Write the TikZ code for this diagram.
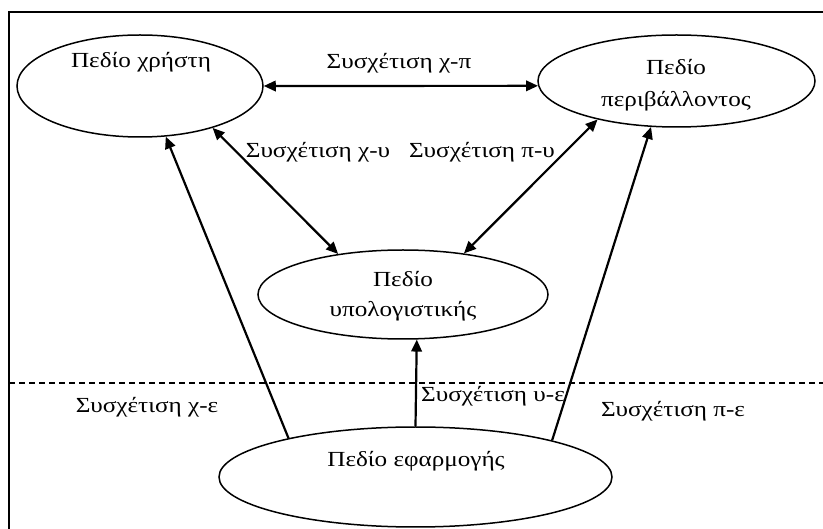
\documentclass[tikz,border=0pt]{standalone}
\usepackage{fontspec}
\setmainfont{Liberation Serif}[FakeStretch=1.17]
\usetikzlibrary{arrows.meta,shapes.geometric}
\begin{document}
\begin{tikzpicture}[x=1pt,y=-1pt,
  fieldbox/.style={draw, ellipse, line width=1.5pt, inner sep=0pt},
  txt/.style={anchor=base, inner sep=0pt, font=\fontsize{21.5}{26}\selectfont},
  link/.style={line width=2.2pt, -{Triangle[length=12pt,width=10.5pt]}},
  biline/.style={line width=2.2pt, {Triangle[length=12pt,width=10.5pt]}-{Triangle[length=12pt,width=10.5pt]}}]
\useasboundingbox (0,0) rectangle (823,529);
% outer frame
\draw[line width=1.4pt] (9,560) -- (9,12) -- (850,12);
% separating dashed line
\coordinate (dashL) at (9,383);
\coordinate (dashR) at (823,383);
\draw[line width=1.3pt, dash pattern=on 6pt off 4pt] (dashL) -- (dashR);

% fields
\node[fieldbox, minimum width=246pt, minimum height=102pt] (user) at (140,86) {};
\node[fieldbox, minimum width=277pt, minimum height=92pt] (env) at (676.5,81) {};
\node[fieldbox, minimum width=290pt, minimum height=89pt] (comp) at (403,294.5) {};
\node[fieldbox, minimum width=393pt, minimum height=100pt] (app) at (415.5,477) {};

% field names
\node[txt] (userT) at (141,68) {Πεδίο χρήστη};
\node[txt] (envT1) at (676,75) {Πεδίο};
\node[txt] (envT2) at (676,107) {περιβάλλοντος};
\node[txt] (compT1) at (403,287) {Πεδίο};
\node[txt] (compT2) at (403,317) {υπολογιστικής};
\node[txt] (appT) at (416,467) {Πεδίο εφαρμογής};

% relations
\draw[biline] (user.east) -- (env.182);
\draw[biline] (user.-30) -- (comp.148);
\draw[biline] (env.206) -- (comp.34);
\draw[link] (app.163) -- (user.-63);
\draw[link] (app.north) -- (comp.-73.5);
\draw[link] (app.15) -- (env.241);

% relation labels
\node[txt] (lUE) at (399,69) {Συσχέτιση χ-π};
\node[txt] (lUC) at (318,158) {Συσχέτιση χ-υ};
\node[txt] (lEC) at (482,158) {Συσχέτιση π-υ};
\node[txt] (lUA) at (147,413) {Συσχέτιση χ-ε};
\node[txt] (lCA) at (493,402) {Συσχέτιση υ-ε};
\node[txt] (lEA) at (673,417) {Συσχέτιση π-ε};
\end{tikzpicture}
\end{document}
